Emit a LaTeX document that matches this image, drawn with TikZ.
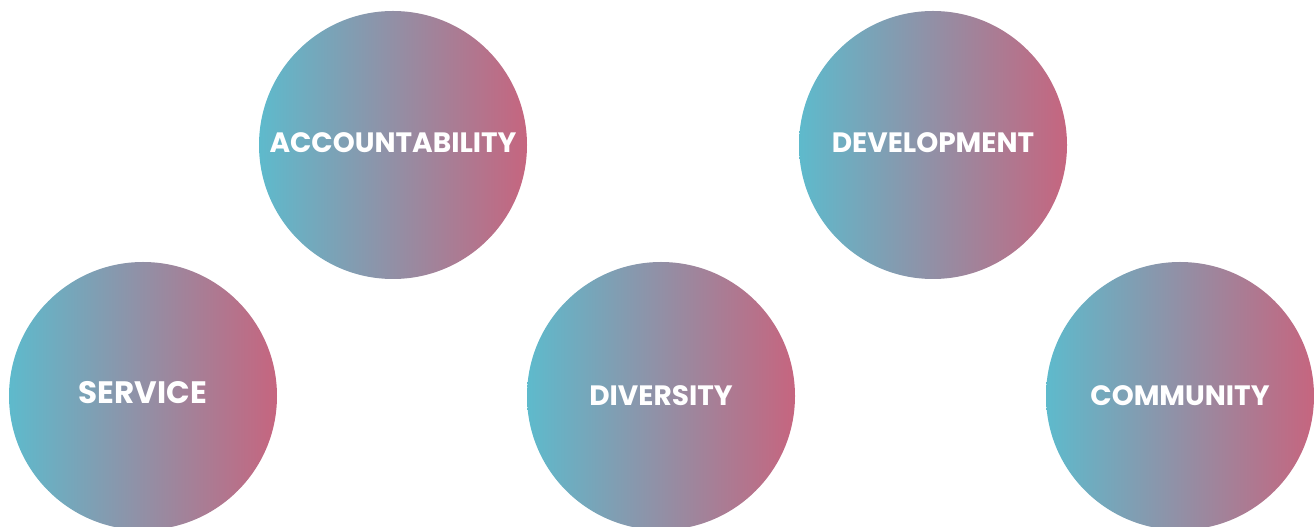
\documentclass[tikz,border=0pt]{standalone}
\usepackage{fontspec}
\setmainfont{Poppins}
\definecolor{cleft}{HTML}{5EBACC}
\definecolor{cmid}{HTML}{968FA3}
\definecolor{cright}{HTML}{C6657F}
\tikzset{
  bubble/.style={circle, minimum size=268pt, inner sep=0pt, draw=none,
    left color=cleft, middle color=cmid, right color=cright},
  label/.style={text=white, inner sep=0pt, font=\fontsize{28}{30}\selectfont\bfseries},
  biglabel/.style={label, font=\fontsize{31}{33}\selectfont\bfseries}
}
\begin{document}
\begin{tikzpicture}[x=1pt,y=1pt]
\useasboundingbox (0,0) rectangle (1315,527);
\begin{scope}
\clip (0,0) rectangle (1315,527);
\node[bubble] (acc) at (393,382) {};
\node[bubble] (dev) at (933,382) {};
\node[bubble] (ser) at (143,131) {};
\node[bubble] (div) at (661,131) {};
\node[bubble] (com) at (1180,131) {};
\end{scope}
\node[label] (tacc) at (393,384) {ACCOUNTABILITY};
\node[label] (tdev) at (933,384) {DEVELOPMENT};
\node[biglabel] (tser) at (143,134) {SERVICE};
\node[label] (tdiv) at (661,131) {DIVERSITY};
\node[label] (tcom) at (1180,131) {COMMUNITY};
\end{tikzpicture}
\end{document}
